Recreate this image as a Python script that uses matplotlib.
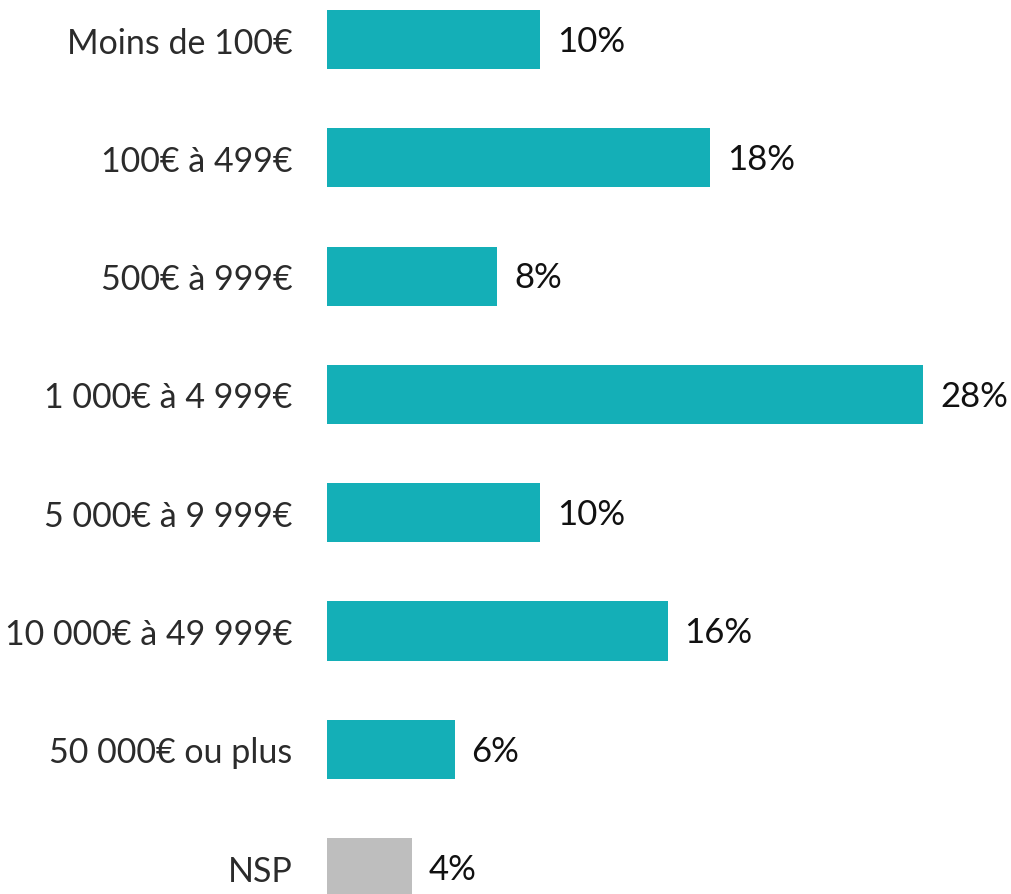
import matplotlib
matplotlib.use("Agg")
import matplotlib.pyplot as plt

categories = [
    "Moins de 100€",
    "100€ à 499€",
    "500€ à 999€",
    "1 000€ à 4 999€",
    "5 000€ à 9 999€",
    "10 000€ à 49 999€",
    "50 000€ ou plus",
    "NSP",
]
values = [10, 18, 8, 28, 10, 16, 6, 4]
colors = ["#14afb7"] * 7 + ["#bebebe"]

plt.rcParams["font.family"] = ["Lato", "DejaVu Sans"]

fig = plt.figure(figsize=(10.12, 8.95), dpi=100)
ax = fig.add_axes([327 / 1012, 0, 1 - 327 / 1012, 1])

ypos = list(range(len(categories)))
ax.barh(ypos, values, height=0.5, color=colors)

for y, v in zip(ypos, values):
    ax.annotate(f"{v}%", (v, y), xytext=(12, -1), textcoords="offset points",
                ha="left", va="center", fontsize=25, color="#111111")

ax.set_yticks(ypos)
ax.set_yticklabels(categories, fontsize=24.5, color="#2b2b2b")
ax.tick_params(axis="y", length=0, pad=25)
ax.set_xticks([])
ax.set_xlim(0, (1012 - 327) / 21.3)
ax.set_ylim((895 - 40.5) / 118.3, -40.5 / 118.3)
for s in ax.spines.values():
    s.set_visible(False)

fig.savefig("out.png", dpi=100)
